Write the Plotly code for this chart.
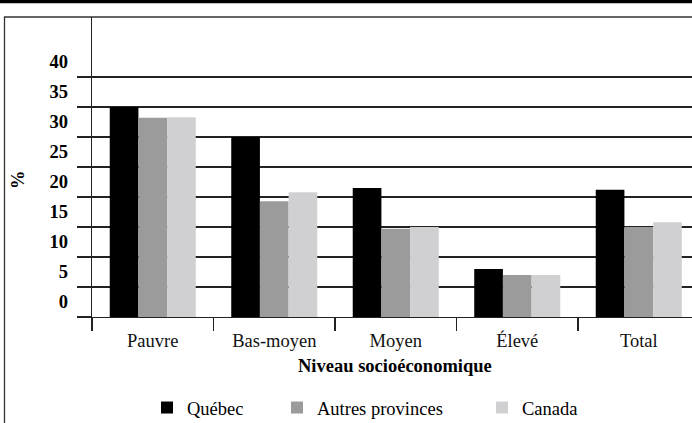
import plotly.graph_objects as go

categories = ["Pauvre", "Bas-moyen", "Moyen", "Élevé", "Total"]
quebec = [35.0, 30.0, 21.5, 8.0, 21.2]
autres = [33.2, 19.3, 14.7, 7.0, 15.0]
canada = [33.3, 20.8, 15.0, 7.0, 15.8]
series_names = ["Québec", "Autres provinces", "Canada"]
colors = ["#000000", "#9b9b9b", "#d0d0d2"]
ytick_vals = [0, 5, 10, 15, 20, 25, 30, 35, 40]
ytick_text = [str(v) for v in ytick_vals]

FONT = "Liberation Serif, Tinos, Times New Roman, DejaVu Serif, serif"
W, H = 692, 423
L, T, B = 92, 17, 106
PW, PH = W - L, H - T - B

fig = go.Figure()
legends = ["legend", "legend2", "legend3"]
for name, vals, col, lg in zip(series_names, [quebec, autres, canada], colors, legends):
    fig.add_trace(go.Bar(x=categories, y=vals, name=name, marker=dict(color=col, line=dict(width=0)),
                         legend=lg))

def px_x(p):
    return (p - L) / PW

def px_y(p):
    return (H - B - p) / PH

leg_common = dict(orientation="h", yanchor="middle", xanchor="left", bgcolor="rgba(0,0,0,0)",
                  xref="container", yref="container",
                  font=dict(family=FONT, size=18.5, color="#000"), borderwidth=0)
legend_x = [147, 277, 482]
for lg, xp in zip(legends, legend_x):
    fig.update_layout(**{lg: dict(x=xp / W, y=1 - 408 / H, **leg_common)})

cat_w = 121.5
fig.update_layout(
    width=W, height=H,
    margin=dict(l=L, r=0, t=T, b=B, pad=0),
    paper_bgcolor="white", plot_bgcolor="white",
    barmode="group", bargap=0.292, bargroupgap=0,
    showlegend=True,
    font=dict(family=FONT, color="#000"),
    xaxis=dict(range=[-0.5, -0.5 + PW / cat_w], showline=True, linecolor="#222", linewidth=1.3,
               ticks="outside", tickson="boundaries", ticklen=13, tickcolor="#222", tickwidth=1.3,
               tickfont=dict(family=FONT, size=18.5, color="#111"), showgrid=False, fixedrange=True,
               ticklabelstandoff=6, automargin=False),
    yaxis=dict(range=[0, 50], tickvals=ytick_vals, ticktext=ytick_text, showline=True,
               linecolor="#222", linewidth=1.3, ticks="outside", ticklen=14, tickcolor="#222",
               tickwidth=1.3, showgrid=True, gridcolor="#222", gridwidth=1.3, zeroline=False,
               tickfont=dict(family=FONT, size=18.5, color="#000", weight="bold"),
               ticklabelshift=-15, ticklabelstandoff=5, automargin=False, fixedrange=True),
    shapes=[
        dict(type="line", xref="paper", yref="paper", x0=px_x(-5), x1=px_x(W + 5),
             y0=px_y(1.6), y1=px_y(1.6), line=dict(color="#000", width=3.2)),
        dict(type="rect", xref="paper", yref="paper", x0=px_x(4.5), x1=px_x(W + 20),
             y0=px_y(H + 20), y1=px_y(17), line=dict(color="#333", width=1.3), layer="below"),
    ],
    annotations=[
        dict(text="<b>%</b>", xref="paper", yref="paper", x=px_x(18), y=px_y(180), textangle=-90,
             showarrow=False, xanchor="center", yanchor="middle",
             font=dict(family=FONT, size=18.5, color="#000")),
        dict(text="<b>Niveau socioéconomique</b>", xref="paper", yref="paper", x=px_x(395),
             y=px_y(366), showarrow=False, xanchor="center", yanchor="middle",
             font=dict(family=FONT, size=18.5, color="#000")),
    ],
)

fig.write_html("out.html", config={"displayModeBar": False, "staticPlot": True},
               post_script="document.body.style.margin='0';document.body.style.overflow='hidden';")
